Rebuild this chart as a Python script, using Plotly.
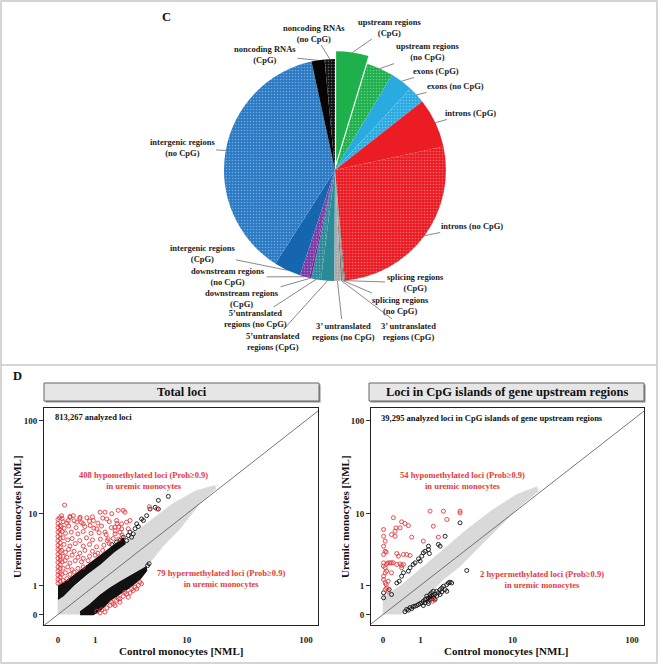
import numpy as np
import plotly.graph_objects as go

W, H = 659, 665
SERIF = "Liberation Serif"

# ---------------- Panel C data ----------------
pie_labels = [
    "upstream regions (CpG)", "upstream regions (no CpG)", "exons (CpG)", "exons (no CpG)",
    "introns (CpG)", "introns (no CpG)", "splicing regions (CpG)", "splicing regions (no CpG)",
    "3' untranslated regions (CpG)", "3' untranslated regions (no CpG)",
    "5'untranslated regions (CpG)", "5'untranslated regions (no CpG)",
    "downstream regions (CpG)", "downstream regions (no CpG)",
    "intergenic regions (CpG)", "intergenic regions (no CpG)",
    "noncoding RNAs (CpG)", "noncoding RNAs (no CpG)",
]
pie_values = [4.7, 3.9, 3.3, 2.5, 7.2, 27.0, 0.15, 0.2, 0.25, 0.95,
              1.9, 1.4, 0.3, 1.4, 3.9, 37.6, 1.9, 1.5]
pie_text = [
    "upstream regions<br>(CpG)", "upstream regions<br>(no CpG)", "exons (CpG)", "exons (no CpG)",
    "introns (CpG)", "introns (no CpG)", "splicing regions<br>(CpG)", "splicing regions<br>(no CpG)",
    "3’ untranslated<br>regions (CpG)", "3’ untranslated<br>regions (no CpG)",
    "5’untranslated<br>regions (CpG)", "5’untranslated<br>regions (no CpG)",
    "downstream regions<br>(CpG)", "downstream regions<br>(no CpG)",
    "intergenic regions<br>(CpG)", "intergenic regions<br>(no CpG)",
    "noncoding RNAs<br>(CpG)", "noncoding RNAs<br>(no CpG)",
]
pie_colors = ["#1DB04B", "#1DB04B", "#29ABE2", "#29ABE2", "#EC1C24", "#EC1C24",
              "#6D6E70", "#8F8F8F", "#7F7F7F", "#A8A8A8", "#2B8A98", "#2B8A98",
              "#6E2F9E", "#7B3AA6", "#1565AF", "#2A7AC4", "#050505", "#111111"]
pie_cpg = [True, False, True, False, True, False, True, False, True, False,
           True, False, True, False, True, False, True, False]
# label centres (pixels)
pie_label_x = [389, 427, 436, 455, 470, 472, 415, 400, 408, 343, 273, 255, 242, 228, 202, 182, 265, 314]
pie_label_y = [27, 52, 71, 86, 113, 226, 283, 305, 331, 331, 341, 319, 298, 277, 253, 148, 55, 33]

# ---------------- Panel D data (NML values) ----------------
tick_values = [0, 1, 10, 100]
tick_labels = ["0", "1", "10", "100"]

# Total loci
tot_cloud_x = [0, 0, 0.5, 1.5, 3.6, 7.5, 12, 17.5, 18, 13, 8.7, 6, 4.4, 2.4, 1.2, 0.7, 0.5]
tot_cloud_y = [0, 0.45, 1.15, 2.9, 6.7, 13, 18, 20.5, 19, 13, 6.7, 4, 2.3, 1.15, 0.4, 0.1, 0]
tot_black_up_x = [0, 0.04, 0.33, 0.71, 1.19, 1.80, 2.37, 2.48, 1.80, 1.19, 0.71, 0.33, 0.10, 0]
tot_black_up_y = [1.0, 1.0, 1.5, 2.2, 3.0, 4.1, 5.1, 4.4, 3.4, 2.34, 1.63, 1.0, 0.57, 0.44]
tot_black_lo_x = [0.51, 0.82, 1.19, 1.63, 2.17, 2.82, 3.6, 4.15, 4.2, 3.6, 2.82, 2.17, 1.63, 1.19, 0.93, 0.51]
tot_black_lo_y = [0.06, 0.27, 0.57, 0.86, 1.16, 1.48, 1.82, 2.08, 1.85, 1.33, 0.92, 0.64, 0.40, 0.10, 0.0, 0.0]
tot_black_pts_x = [2.70, 2.94, 2.59, 3.33, 3.46, 3.2, 2.37, 2.17, 3.74, 4.21, 4.55, 5.1, 5.48, 5.48, 6.8,
                   2.82, 1.98, 1.72, 3.9, 3.06, 4.3, 4.45]
tot_black_pts_y = [5.55, 5.29, 4.81, 7.65, 7.1, 6.7, 5.29, 4.81, 8.7, 9.5, 11.3, 11.8, 11.3, 14.1, 15.6,
                   6.1, 4.6, 4.3, 8.35, 5.81, 2.2, 2.35]
# hypomethylated loci (control, uremic)
tot_red_hypo = [
    (0.13, 12.5), (0.51, 9.1), (0.71, 9.0), (1.19, 10.4), (1.40, 10.4), (1.72, 10.0), (2.07, 10.9),
    (2.37, 10.9), (2.48, 10.4), (0.93, 8.35), (1.48, 8.7), (1.98, 8.35), (2.27, 7.65), (1.89, 7.0),
    (2.59, 8.0), (2.82, 8.35), (0.33, 9.5), (0.21, 8.35), (0.07, 9.5), (2.27, 6.67), (2.70, 6.67),
    (1.89, 5.81), (1.55, 5.05), (2.17, 6.1), (1.40, 6.1), (1.06, 6.67), (0.82, 7.3), (0.60, 7.65),
    (0.42, 8.0), (0.25, 9.1), (4.48, 12.0), (5.3, 11.3),
    (0.0, 1.1), (0.0, 1.3), (0.0, 1.55), (0.0, 1.8), (0.0, 2.1), (0.0, 2.45), (0.0, 2.8), (0.0, 3.2),
    (0.0, 3.7), (0.0, 4.2), (0.0, 4.8), (0.0, 5.4), (0.0, 6.1), (0.0, 6.9), (0.0, 7.7), (0.0, 8.6),
    (0.04, 1.2), (0.04, 1.45), (0.04, 1.7), (0.04, 2.0), (0.04, 2.3), (0.04, 2.65), (0.04, 3.0),
    (0.04, 3.45), (0.04, 3.95), (0.04, 4.5), (0.04, 5.1), (0.04, 5.75), (0.04, 6.5), (0.04, 7.3),
    (0.03, 9.0), (0.08, 8.8), (0.25, 9.3), (0.5, 8.8), (0.9, 9.2), (1.3, 8.9),
    (0.1, 8.1), (0.18, 7.8), (0.35, 8.3), (0.55, 7.9), (0.8, 8.2), (1.1, 7.8), (1.6, 8.1), (2.0, 7.7),
    (0.06, 7.1), (0.12, 6.8), (0.22, 7.2), (0.4, 6.9), (0.65, 7.1), (0.95, 6.8), (1.25, 7.2),
    (1.7, 6.9), (2.1, 7.0),
    (0.08, 6.2), (0.15, 5.9), (0.28, 6.1), (0.45, 5.8), (0.6, 6.2), (0.85, 5.9), (1.15, 6.0),
    (1.45, 5.7), (1.9, 6.3), (2.3, 5.6),
    (0.1, 5.2), (0.2, 4.9), (0.3, 5.1), (0.5, 4.8), (0.7, 5.2), (0.9, 4.9), (1.2, 5.0), (1.5, 4.8),
    (1.8, 5.1), (2.1, 5.0),
    (0.12, 4.3), (0.25, 4.1), (0.38, 4.4), (0.6, 4.1), (0.8, 4.3), (1.05, 4.0), (1.35, 4.2),
    (1.6, 4.4),
    (0.07, 3.6), (0.15, 3.4), (0.22, 3.7), (0.35, 3.5), (0.5, 3.3), (0.65, 3.6), (0.9, 3.5),
    (1.1, 3.3), (1.3, 3.6),
    (0.1, 3.0), (0.18, 2.9), (0.3, 3.1), (0.45, 2.9), (0.6, 2.8), (0.8, 3.0), (1.0, 3.1),
    (0.08, 2.5), (0.14, 2.6), (0.25, 2.4), (0.38, 2.6), (0.55, 2.5), (0.75, 2.6),
    (0.1, 2.0), (0.2, 2.1), (0.3, 1.9), (0.45, 2.0), (0.6, 2.1),
    (0.07, 1.6), (0.15, 1.7), (0.25, 1.6), (0.35, 1.75),
    (0.1, 1.25), (0.18, 1.35),
]
tot_red_hyper_x = [1.06, 1.25, 1.48, 1.63, 1.80, 1.98, 2.17, 2.37, 2.59, 2.82, 3.06, 3.2, 3.46, 3.6, 2.17,
                   1.89, 1.40, 1.19, 2.70, 3.33, 3.74, 2.48, 1.72, 2.07, 2.94]
tot_red_hyper_y = [0.08, 0.12, 0.17, 0.24, 0.29, 0.40, 0.46, 0.54, 0.64, 0.67, 0.77, 0.92, 1.0, 1.16, 0.34,
                   0.24, 0.06, 0.04, 0.51, 0.84, 1.08, 0.70, 0.34, 0.46, 0.84]

# CpG islands of gene upstream regions
cgi_cloud_x = [0, 0, 0.37, 0.99, 2.06, 3.72, 6.73, 10.9, 16.3, 16.8, 11.7, 7.75, 5.04, 3.17, 2.06, 1.25, 0.65, 0.37]
cgi_cloud_y = [0, 0.55, 0.96, 1.92, 3.69, 6.55, 11.2, 16.4, 19.9, 17.8, 12.1, 7.17, 4.08, 2.16, 1.30, 0.55, 0.13, 0]
cgi_black_x = [0.01, 0.01, 0.12, 0.17, 0.29, 0.35, 0.41, 0.46, 0.60, 0.65, 0.75, 0.81, 0.99, 0.93, 1.05, 1.11,
               1.18, 1.32, 1.32, 1.36, 1.79, 1.88, 2.16, 3.17, 3.72,
               0.50, 0.55, 0.60, 0.65, 0.70, 0.75, 0.81, 0.87, 0.93, 0.99, 1.05, 1.11, 1.18, 1.25, 1.32, 1.39,
               1.46, 1.54, 1.62, 1.70, 1.25, 1.32, 1.39, 1.46, 1.54, 1.62, 1.18, 1.46, 1.54, 1.70, 1.79, 1.88,
               1.97, 2.06, 2.16, 2.26, 2.36, 2.46, 2.57, 2.26, 1.88, 1.97, 1.39, 1.32, 1.11]
cgi_black_y = [0.68, 0.49, 0.81, 0.61, 1.12, 1.21, 1.49, 1.70, 1.81, 2.04, 2.29, 2.42, 2.56, 2.76, 3.01, 3.34,
               3.5, 3.69, 4.08, 3.27, 4.3, 4.08, 5.44, 7.85, 1.85,
               0.07, 0.13, 0.11, 0.18, 0.15, 0.21, 0.22, 0.24, 0.27, 0.30, 0.32, 0.37, 0.43, 0.45, 0.48, 0.52,
               0.55, 0.57, 0.61, 0.55, 0.55, 0.37, 0.43, 0.45, 0.48, 0.43, 0.32, 0.68, 0.74, 0.74, 0.68, 0.81,
               0.88, 0.96, 0.81, 1.04, 1.12, 1.16, 1.12, 0.74, 0.61, 0.71, 0.61, 0.30, 0.24]
cgi_red_hypo_x = [0.01, 0.01, 0.04, 0.01, 0.04, 0.01, 0.06, 0.17, 0.21, 0.25, 0.27, 0.25, 0.33, 0.37, 0.41,
                  0.50, 0.60, 0.70, 1.11, 1.39, 1.54, 1.79, 2.06, 2.26, 3.17, 3.17, 0.01, 0.006, 0.04, 0.07,
                  0.10, 0.14, 0.17, 0.21, 0.07, 0.04, 0.01, 0.01, 0.04, 0.06, 0.10, 0.07, 0.10, 0.17, 0.29,
                  0.37, 0.41, 0.46, 0.55, 0.65, 0.41, 0.29, 0.46, 0.04]
cgi_red_hypo_y = [6.55, 5.44, 4.73, 4.08, 3.5, 3.17, 3.41, 5.7, 9.0, 6.26, 6.85, 5.44, 3.01, 6.85, 8.07,
                  7.71, 7.29, 5.3, 4.73, 10.7, 7.17, 5.3, 10.7, 8.58, 10.7, 10.2, 2.42, 2.16, 2.04, 2.34,
                  2.42, 2.42, 2.42, 2.42, 1.81, 1.70, 1.49, 1.30, 1.12, 1.04, 1.21, 0.88, 0.74, 1.70, 2.29,
                  2.34, 2.21, 3.17, 3.17, 3.07, 2.04, 3.27, 2.29, 0.81]
cgi_red_hyper_x = [1.51, 1.57]
cgi_red_hyper_y = [0.37, 0.43]

tot_red_hypo_x = [p[0] for p in tot_red_hypo]
tot_red_hypo_y = [p[1] for p in tot_red_hypo]


def T(v):
    return np.log10(np.asarray(v, dtype=float) + 1.0)


def px(x):
    return x / W


def py(y):
    return 1 - y / H


fig = go.Figure()

# ---------------- Pie ----------------
pie_cx, pie_cy, pie_r = 335, 170, 111
pull_amt = 0.07
pulls = [pull_amt] + [0] * (len(pie_values) - 1)
half = pie_r * (1 + pull_amt)
fig.add_trace(go.Pie(
    values=pie_values, labels=pie_labels, sort=False, direction="clockwise", rotation=0,
    pull=pulls, textinfo="none", showlegend=False, hoverinfo="label+percent",
    marker=dict(colors=pie_colors, line=dict(width=0),
                pattern=dict(shape=["" if c else "." for c in pie_cpg], fgcolor="white",
                             bgcolor=pie_colors, fgopacity=0.35, size=3, solidity=0.22)),
    domain=dict(x=[px(pie_cx - half), px(pie_cx + half)], y=[py(pie_cy + half), py(pie_cy - half)]),
))

vals = np.array(pie_values)
frac = vals / vals.sum()
mid = 2 * np.pi * (np.cumsum(frac) - frac / 2)
annotations = []
lab_font = dict(family=SERIF, size=8.5, color="#222", weight="bold")
for i in range(len(vals)):
    rr = pie_r * (1 + pulls[i])
    tx = pie_cx + rr * np.sin(mid[i])
    ty = pie_cy - rr * np.cos(mid[i])
    annotations.append(dict(
        x=px(tx), y=py(ty), xref="paper", yref="paper", text=pie_text[i],
        showarrow=True, arrowhead=0, arrowwidth=0.7, arrowcolor="#555",
        ax=pie_label_x[i] - tx, ay=pie_label_y[i] - ty, font=lab_font, align="center"))

# ---------------- Scatter panels ----------------
panels = [
    dict(xa="x", ya="y", cloud=(tot_cloud_x, tot_cloud_y),
         polys=[(tot_black_up_x, tot_black_up_y), (tot_black_lo_x, tot_black_lo_y)],
         black=(tot_black_pts_x, tot_black_pts_y),
         red=[(tot_red_hypo_x, tot_red_hypo_y), (tot_red_hyper_x, tot_red_hyper_y)]),
    dict(xa="x2", ya="y2", cloud=(cgi_cloud_x, cgi_cloud_y), polys=[],
         black=(cgi_black_x, cgi_black_y),
         red=[(cgi_red_hypo_x, cgi_red_hypo_y), (cgi_red_hyper_x, cgi_red_hyper_y)]),
]
RED = "#E8383D"
for p in panels:
    cx, cy = p["cloud"]
    fig.add_trace(go.Scatter(x=T(cx), y=T(cy), xaxis=p["xa"], yaxis=p["ya"], mode="lines",
                             fill="toself", fillcolor="#D9D9D9", line=dict(width=0.5, color="#D4D4D4"),
                             showlegend=False, hoverinfo="skip"))
    for bx, by in p["polys"]:
        fig.add_trace(go.Scatter(x=T(bx), y=T(by), xaxis=p["xa"], yaxis=p["ya"], mode="lines",
                                 fill="toself", fillcolor="#111", line=dict(width=1.5, color="#111"),
                                 showlegend=False, hoverinfo="skip"))
    fig.add_trace(go.Scatter(x=[-0.3, 2.4], y=[-0.3, 2.4], xaxis=p["xa"], yaxis=p["ya"], mode="lines",
                             line=dict(color="#555", width=0.8), showlegend=False, hoverinfo="skip"))
    bx, by = p["black"]
    fig.add_trace(go.Scatter(x=T(bx), y=T(by), xaxis=p["xa"], yaxis=p["ya"], mode="markers",
                             marker=dict(symbol="circle-open", size=4, color="#111", line=dict(width=0.9)),
                             showlegend=False))
    for rx, ry in p["red"]:
        fig.add_trace(go.Scatter(x=T(rx), y=T(ry), xaxis=p["xa"], yaxis=p["ya"], mode="markers",
                                 marker=dict(symbol="circle-open", size=4, color=RED, line=dict(width=0.9)),
                                 showlegend=False))

tick_t = T(tick_values)
tickfont = dict(family=SERIF, size=9, color="#222", weight="bold")
ydom = [py(625), py(408)]
common_x = dict(tickmode="array", tickvals=tick_t, ticktext=tick_labels, ticks="outside", ticklen=6,
                tickcolor="rgba(0,0,0,0)", showline=True, mirror=True, linecolor="#222", linewidth=1,
                showgrid=False, zeroline=False, tickfont=tickfont)
common_y = dict(tickmode="array", tickvals=tick_t, ticktext=tick_labels, ticks="outside", ticklen=4,
                tickcolor="#333", showline=True, mirror=True, linecolor="#222", linewidth=1,
                showgrid=False, zeroline=False, tickfont=tickfont, range=[-0.108, 2.133], domain=ydom)
fig.update_layout(
    xaxis=dict(common_x, domain=[px(44), px(318)], range=[-0.113, 2.102], anchor="y"),
    yaxis=dict(common_y, anchor="x"),
    xaxis2=dict(common_x, domain=[px(371), px(644)], range=[-0.097, 2.101], anchor="y2"),
    yaxis2=dict(common_y, anchor="x2"),
)

# ---------------- texts ----------------
def txt(x, y, s, size=8.5, color="#111", xanchor="center", angle=0):
    annotations.append(dict(x=px(x), y=py(y), xref="paper", yref="paper", text=s, showarrow=False,
                            xanchor=xanchor, yanchor="middle", textangle=angle, align="center",
                            font=dict(family=SERIF, size=size, color=color, weight="bold")))

txt(166, 17, "C", 12.5)
txt(17, 376, "D", 12.5)
txt(53, 417, "813,267 analyzed loci", 8.5, xanchor="left")
txt(379, 418, "39,295 analyzed loci in CpG islands of gene upstream regions", 8.5, xanchor="left")
txt(143, 480, "408 hypomethylated loci (Prob≥0.9)<br>in uremic monocytes", 8.5, RED)
txt(221, 578, "79 hypermethylated loci (Prob≥0.9)<br>in uremic monocytes", 8.5, RED)
txt(462, 480, "54 hypomethylated loci (Prob≥0.9)<br>in uremic monocytes", 8.5, RED)
txt(542, 579, "2 hypermethylated loci (Prob≥0.9)<br>in uremic monocytes", 8.5, RED)
txt(181, 651, "Control monocytes [NML]", 11)
txt(506, 651, "Control monocytes [NML]", 11)
txt(17, 517, "Uremic monocytes [NML]", 11, angle=-90)
txt(345, 517, "Uremic monocytes [NML]", 11, angle=-90)
txt(181.5, 392, "Total loci", 12.5)
txt(506.5, 392, "Loci in CpG islands of gene upstream regions", 12.5)

shapes = []
def rect(x0, y0, x1, y1, **kw):
    shapes.append(dict(type="rect", xref="paper", yref="paper", x0=px(x0), x1=px(x1), y0=py(y1), y1=py(y0), **kw))

rect(1, 1, 657, 663, line=dict(color="#C8C8C8", width=1.5), layer="below")
shapes.append(dict(type="line", xref="paper", yref="paper", x0=px(1), x1=px(657), y0=py(365), y1=py(365),
                   line=dict(color="#C8C8C8", width=1.5)))
for x0, x1 in [(44, 319), (369, 644)]:
    rect(x0 + 1.5, 384.5, x1 + 1.5, 402.5, fillcolor="#8A8A8A", line=dict(width=0), layer="below")
    rect(x0, 383, x1, 401, fillcolor="#E6E6E6", line=dict(color="#666", width=1), layer="below")

fig.update_layout(width=W, height=H, margin=dict(l=0, r=0, t=0, b=0), paper_bgcolor="white",
                  plot_bgcolor="white", annotations=annotations, shapes=shapes, showlegend=False)
fig.write_html("out.html", config={"displayModeBar": False},
               post_script="document.body.style.margin='0px';document.body.style.overflow='hidden';")
